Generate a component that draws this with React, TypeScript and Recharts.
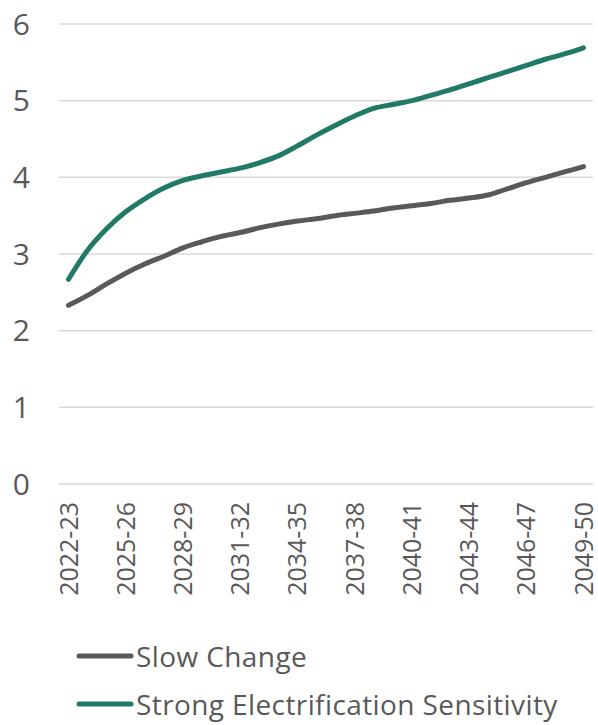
import React from 'react';
import { LineChart, Line, XAxis, YAxis, CartesianGrid, Legend } from 'recharts';

// Fiscal years on the category axis
const periods = [
  '2022-23', '2023-24', '2024-25', '2025-26', '2026-27', '2027-28', '2028-29',
  '2029-30', '2030-31', '2031-32', '2032-33', '2033-34', '2034-35', '2035-36',
  '2036-37', '2037-38', '2038-39', '2039-40', '2040-41', '2041-42', '2042-43',
  '2043-44', '2044-45', '2045-46', '2046-47', '2047-48', '2048-49', '2049-50',
];

const slowChange = [
  2.33, 2.46, 2.61, 2.75, 2.87, 2.97, 3.08, 3.16, 3.23, 3.28, 3.34, 3.39, 3.43, 3.46,
  3.5, 3.53, 3.56, 3.6, 3.63, 3.66, 3.7, 3.73, 3.77, 3.85, 3.93, 4.0, 4.07, 4.14,
];

const strongElectrification = [
  2.67, 3.05, 3.33, 3.55, 3.72, 3.86, 3.96, 4.02, 4.07, 4.12, 4.19, 4.28, 4.41, 4.55,
  4.68, 4.8, 4.9, 4.95, 5.0, 5.07, 5.14, 5.22, 5.3, 5.38, 5.46, 5.54, 5.61, 5.69,
];

const yTicks = [0, 1, 2, 3, 4, 5, 6];

const seriesNames = ['Slow Change', 'Strong Electrification Sensitivity'];
const seriesColors = ['#595959', '#217A67'];

const data = periods.map((period, i) => ({
  period,
  slow: slowChange[i],
  strong: strongElectrification[i],
}));

const FONT = '"Open Sans", "Noto Sans", sans-serif';
const TEXT = '#595959';

const XTick = (props: any) => {
  const { x, y, payload } = props;
  const ty = y + 10;
  return (
    <text
      x={x}
      y={ty}
      transform={`rotate(-90, ${x}, ${ty})`}
      textAnchor="end"
      dy="0.36em"
      fill={TEXT}
      fontSize={25}
      fontFamily={FONT}
    >
      {payload.value}
    </text>
  );
};

const LegendBox = () => (
  <div style={{ height: 111, position: 'relative', fontFamily: FONT }}>
    {seriesNames.map((name, i) => (
      <div
        key={name}
        style={{
          position: 'absolute',
          left: 76,
          top: i === 0 ? 27 : 75,
          height: 30,
          display: 'flex',
          alignItems: 'center',
          whiteSpace: 'nowrap',
        }}
      >
        <svg width={58} height={10} style={{ display: 'block' }}>
          <line x1={3} y1={5} x2={55} y2={5} stroke={seriesColors[i]} strokeWidth={5} strokeLinecap="round" />
        </svg>
        <span style={{ color: TEXT, fontSize: 28, letterSpacing: 0.4, marginLeft: 2, lineHeight: '30px' }}>
          {name}
        </span>
      </div>
    ))}
  </div>
);

export default function App() {
  return (
    <div style={{ position: 'absolute', left: 0, top: 0, width: 598, height: 725, background: '#fff' }}>
      <LineChart width={598} height={725} data={data} margin={{ top: 24, right: 5, bottom: 0, left: 0 }}>
        <CartesianGrid vertical={false} stroke="#d9d9d9" strokeWidth={1.5} />
        <XAxis
          dataKey="period"
          interval={2}
          axisLine={false}
          tickLine={false}
          height={130}
          padding={{ left: 9.5, right: 9.5 }}
          tick={<XTick />}
        />
        <YAxis
          domain={[0, 6]}
          ticks={yTicks}
          width={59}
          axisLine={false}
          tickLine={false}
          tickSize={0}
          tickMargin={29}
          tick={{ fill: TEXT, fontSize: 30, fontFamily: FONT }}
        />
        <Legend verticalAlign="bottom" content={<LegendBox />} />
        <Line
          type="monotone"
          dataKey="slow"
          name={seriesNames[0]}
          stroke={seriesColors[0]}
          strokeWidth={5}
          dot={false}
          strokeLinecap="round"
          isAnimationActive={false}
        />
        <Line
          type="monotone"
          dataKey="strong"
          name={seriesNames[1]}
          stroke={seriesColors[1]}
          strokeWidth={5}
          dot={false}
          strokeLinecap="round"
          isAnimationActive={false}
        />
      </LineChart>
    </div>
  );
}
